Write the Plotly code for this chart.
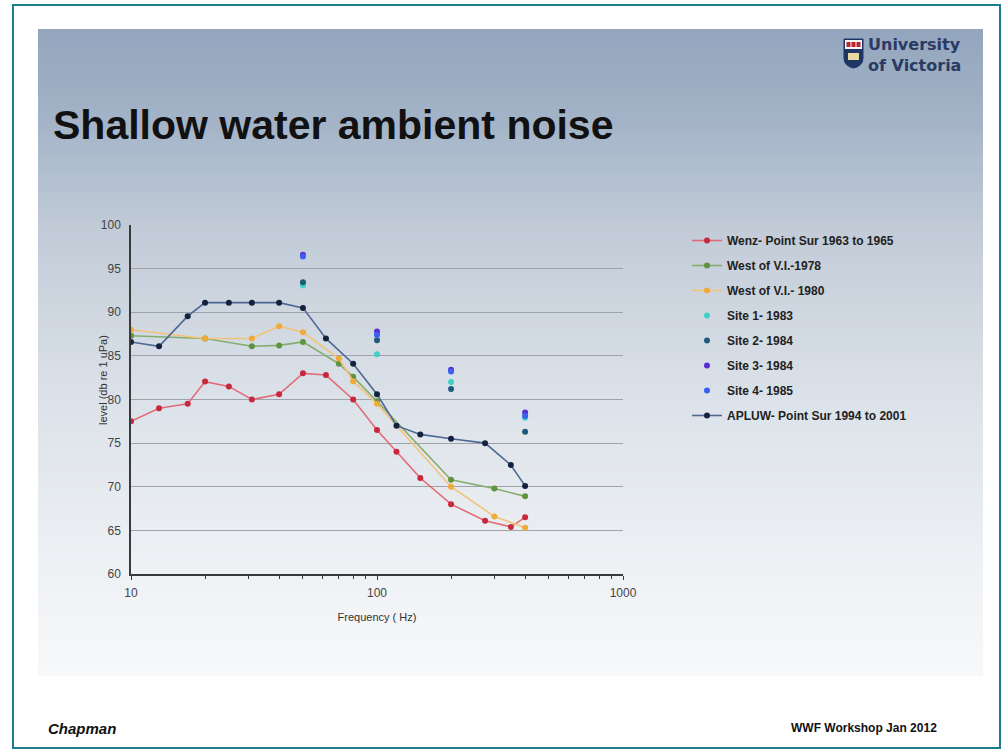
import plotly.graph_objects as go

# ---------------- data ----------------
freq_wenz = [10, 13, 17, 20, 25, 31, 40, 50, 62, 80, 100, 120, 150, 200, 275, 350, 400]
level_wenz = [77.5, 79.0, 79.5, 82.05, 81.5, 80.0, 80.6, 83.0, 82.8, 80.0, 76.5, 74.0, 71.0, 68.0, 66.1, 65.4, 66.5]

freq_vi78 = [10, 20, 31, 40, 50, 70, 80, 100, 200, 300, 400]
level_vi78 = [87.3, 87.0, 86.1, 86.2, 86.6, 84.1, 82.6, 79.8, 70.8, 69.8, 68.9]

freq_vi80 = [10, 20, 31, 40, 50, 70, 80, 100, 200, 300, 400]
level_vi80 = [88.0, 87.0, 87.0, 88.4, 87.7, 84.7, 82.1, 79.5, 70.0, 66.6, 65.3]

freq_sites = [50, 100, 200, 400]
level_site1 = [93.1, 85.2, 82.0, 77.9]
level_site2 = [93.45, 86.8, 81.2, 76.3]
level_site3 = [96.6, 87.8, 83.4, 78.5]
level_site4 = [96.4, 87.4, 83.2, 78.1]

freq_apluw = [10, 13, 17, 20, 25, 31, 40, 50, 62, 80, 100, 120, 150, 200, 275, 350, 400]
level_apluw = [86.6, 86.1, 89.55, 91.1, 91.1, 91.1, 91.1, 90.5, 87.0, 84.1, 80.6, 77.0, 76.0, 75.5, 75.0, 72.5, 70.1]

names = ["Wenz- Point Sur 1963 to 1965", "West of V.I.-1978", "West of V.I.- 1980",
         "Site 1- 1983", "Site 2- 1984", "Site 3- 1984", "Site 4- 1985",
         "APLUW- Point Sur 1994 to 2001"]

x_ticks = [10, 100, 1000]
x_minor = [20, 30, 40, 50, 60, 70, 80, 90, 200, 300, 400, 500, 600, 700, 800, 900]
y_ticks = [60, 65, 70, 75, 80, 85, 90, 95, 100]

# ---------------- layout geometry (reference pixel coords) ----------------
W, H = 1007, 753
L, R, T, B = 131, 623, 225, 574
FONT = "Liberation Sans, Arial, sans-serif"


def px(x):
    return (x - L) / (R - L)


def py(y):
    return (B - y) / (B - T)


fig = go.Figure()

line_traces = [
    (freq_wenz, level_wenz, names[0], "#e26b78", "#c8283c"),
    (freq_vi78, level_vi78, names[1], "#86ad6e", "#5e9440"),
    (freq_vi80, level_vi80, names[2], "#f4c37a", "#efaa3a"),
]
for i, (fx, fy, nm, lc, mc) in enumerate(line_traces):
    fig.add_trace(go.Scatter(x=fx, y=fy, name=nm, mode="lines+markers",
                             line=dict(color=lc, width=1.6),
                             marker=dict(color=mc, size=6),
                             legendgroup=f"g{i}"))

site_traces = [
    (level_site1, names[3], "#3fd0c6"),
    (level_site2, names[4], "#1f5a78"),
    (level_site3, names[5], "#5a2ed2"),
    (level_site4, names[6], "#3d5ef0"),
]
for j, (fy, nm, c) in enumerate(site_traces):
    fig.add_trace(go.Scatter(x=freq_sites, y=fy, name=nm, mode="markers",
                             marker=dict(color=c, size=6),
                             legendgroup=f"s{j}"))

fig.add_trace(go.Scatter(x=freq_apluw, y=level_apluw, name=names[7], mode="lines+markers",
                         line=dict(color="#4d6894", width=1.6),
                         marker=dict(color="#13233f", size=6),
                         legendgroup="ap"))

# ---------------- background shapes ----------------
shapes = []
stops = [(29, (0x93, 0xa6, 0xbd)), (120, (0xa3, 0xb3, 0xc7)), (226, (0xc1, 0xcb, 0xd7)),
         (400, (0xdc, 0xe2, 0xe9)), (575, (0xef, 0xf2, 0xf5)), (675, (0xf7, 0xf8, 0xf9))]


def col_at(y):
    for (y0, c0), (y1, c1) in zip(stops[:-1], stops[1:]):
        if y0 <= y <= y1:
            t = (y - y0) / (y1 - y0)
            return "rgb(%d,%d,%d)" % tuple(round(a + (b - a) * t) for a, b in zip(c0, c1))
    return "rgb(247,248,249)"


step = 6
y = 29
while y < 675:
    y2 = min(y + step, 675)
    shapes.append(dict(type="rect", xref="paper", yref="paper", layer="below",
                       x0=px(38), x1=px(983), y0=py(y2 + 0.5), y1=py(y),
                       line=dict(width=0), fillcolor=col_at((y + y2) / 2)))
    y = y2

# teal frame
shapes.append(dict(type="rect", xref="paper", yref="paper", layer="above",
                   x0=px(13), x1=px(1000), y0=py(748), y1=py(5),
                   line=dict(color="#1d7d8c", width=2), fillcolor="rgba(0,0,0,0)"))

# logo shield
sx0, sx1, sy0, sy1 = 844, 863, 39, 68
shapes.append(dict(type="path", xref="paper", yref="paper", layer="above",
                   path=("M %f %f L %f %f L %f %f Q %f %f %f %f Q %f %f %f %f Z" % (
                       px(sx0), py(sy0), px(sx1), py(sy0), px(sx1), py(sy0 + 19),
                       px(sx1), py(sy1 - 2), px((sx0 + sx1) / 2), py(sy1),
                       px(sx0), py(sy1 - 2), px(sx0), py(sy0 + 19))),
                   fillcolor="#1f3566", line=dict(color="#1f3566", width=1)))
shapes.append(dict(type="rect", xref="paper", yref="paper", layer="above",
                   x0=px(sx0 + 1), x1=px(sx1 - 1), y0=py(sy0 + 10), y1=py(sy0 + 1),
                   fillcolor="#f4f4f4", line=dict(width=0)))
for k in range(3):
    xa = sx0 + 2.5 + k * 5
    shapes.append(dict(type="rect", xref="paper", yref="paper", layer="above",
                       x0=px(xa), x1=px(xa + 4), y0=py(sy0 + 8), y1=py(sy0 + 3),
                       fillcolor="#b8262f", line=dict(width=0)))
shapes.append(dict(type="rect", xref="paper", yref="paper", layer="above",
                   x0=px(sx0 + 4), x1=px(sx1 - 4), y0=py(sy0 + 21), y1=py(sy0 + 14),
                   fillcolor="#e9d9a0", line=dict(width=0)))

# ---------------- annotations ----------------
ann = [
    dict(text="Shallow water ambient noise", x=px(51), y=py(125), xanchor="left", yanchor="middle",
         font=dict(family=FONT, size=41, color="#111111", weight="bold")),
    dict(text="University", x=px(867), y=py(54.5), xanchor="left", yanchor="bottom", borderpad=0,
         font=dict(family="DejaVu Sans", size=16, color="#2b3a63", weight="bold")),
    dict(text="of Victoria", x=px(867), y=py(54.5), xanchor="left", yanchor="top", borderpad=0,
         font=dict(family="DejaVu Sans", size=16, color="#2b3a63", weight="bold")),
    dict(text="Chapman", x=px(46), y=py(728), xanchor="left", yanchor="middle",
         font=dict(family=FONT, size=15, color="#111111", weight="bold", style="italic")),
    dict(text="WWF Workshop Jan 2012", x=px(939), y=py(728), xanchor="right", yanchor="middle",
         font=dict(family=FONT, size=12, color="#111111", weight="bold")),
    dict(text="level (db re 1 uPa)", x=px(103), y=py(380), xanchor="center", yanchor="middle",
         textangle=-90, font=dict(family=FONT, size=11, color="#333333")),
]
for a in ann:
    a.update(xref="paper", yref="paper", showarrow=False)

fig.update_layout(
    width=W, height=H,
    margin=dict(l=L, r=W - R, t=T, b=H - B, pad=0),
    paper_bgcolor="#ffffff",
    plot_bgcolor="rgba(0,0,0,0)",
    shapes=shapes,
    annotations=ann,
    showlegend=True,
    legend=dict(x=px(687), y=py(226), xanchor="left", yanchor="top",
                bgcolor="rgba(0,0,0,0)", borderwidth=0,
                font=dict(family=FONT, size=12, color="#222222", weight="bold"),
                traceorder="grouped", tracegroupgap=6, itemwidth=30),
    xaxis=dict(type="log", range=[1, 3], tickvals=x_ticks, ticktext=[str(v) for v in x_ticks],
               showgrid=False, zeroline=False, showline=True, linecolor="#3a3a3a", linewidth=1.5,
               ticks="outside", ticklen=4, tickcolor="#3a3a3a", ticklabelstandoff=3,
               minor=dict(tickvals=x_minor, ticks="outside", ticklen=3, tickcolor="#3a3a3a",
                          showgrid=False),
               tickfont=dict(family=FONT, size=12, color="#444444"),
               title=dict(text="Frequency ( Hz)", standoff=14,
                          font=dict(family=FONT, size=11, color="#333333"))),
    yaxis=dict(range=[60, 100], tickvals=y_ticks, showgrid=True, gridcolor="#9ea3aa", gridwidth=1,
               zeroline=False, showline=True, linecolor="#3a3a3a", linewidth=1.5,
               ticks="", ticklabelstandoff=6,
               tickfont=dict(family=FONT, size=12, color="#444444")),
)

fig.write_html("out.html",
               config={"displayModeBar": False},
               post_script="document.body.style.margin='0';document.body.style.overflow='hidden';")
